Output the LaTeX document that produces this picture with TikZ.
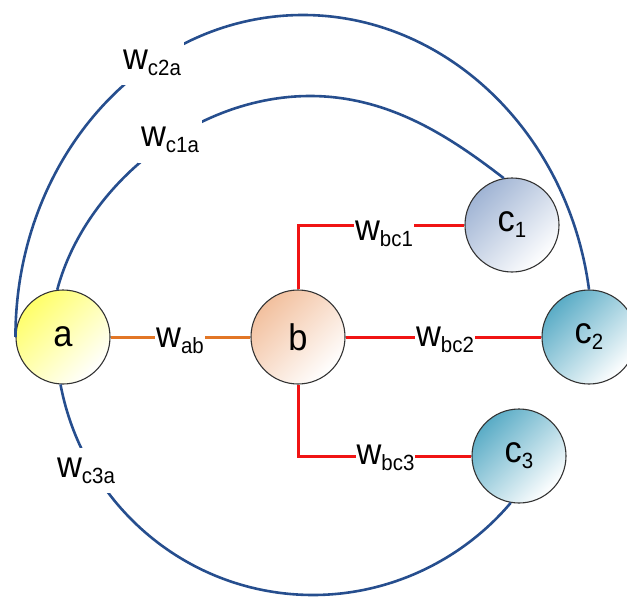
\documentclass[tikz,border=0pt]{standalone}
\usepackage{fontspec}
\newfontfamily\labfont{Liberation Sans}[FakeStretch=0.93]
\newcommand\nodefont{\labfont\fontsize{37}{40}\selectfont}
\newcommand\subtxt[1]{\raisebox{-6pt}{\fontsize{22}{24}\selectfont #1}}
\newcommand\wsub[1]{w\subtxt{#1}}
\definecolor{arcblue}{RGB}{38,78,142}
\definecolor{linered}{RGB}{240,20,20}
\definecolor{lineorange}{RGB}{226,118,38}
\definecolor{ayellow}{RGB}{255,255,105}
\definecolor{bpeach}{RGB}{242,192,158}
\definecolor{cblue}{RGB}{160,180,212}
\definecolor{cteal}{RGB}{90,172,198}
\begin{document}
\begin{tikzpicture}[x=1pt,y=-1pt,
  vertex/.style={circle, draw=black!80, line width=1.1pt, minimum size=94pt,
    inner sep=0pt, font=\nodefont, top color=#1, bottom color=white,
    shading angle=45},
  arcline/.style={draw=arcblue, line width=2.6pt},
  redconn/.style={draw=linered, line width=3pt},
  orangeconn/.style={draw=lineorange, line width=3pt},
  wlabel/.style={fill=white, inner sep=1pt, font=\nodefont},
  gaplabel/.style={fill=white, inner xsep=3pt, inner ysep=10pt, font=\nodefont}]
\clip (0,0) rectangle (627,597);

% nodes
\node[vertex=ayellow] (a) at (63,337) {a};
\node[vertex=bpeach] (b) at (298,337) {b};
\node[vertex=cblue] (c1) at (512,225) {c\subtxt{1}};
\node[vertex=cteal] (c2) at (589,337) {c\subtxt{2}};
\node[vertex=cteal] (c3) at (519,456) {c\subtxt{3}};

% connectors
\draw[orangeconn] (a) -- (b);
\draw[redconn] (b) |- (c1);
\draw[redconn] (b) -- (c2);
\draw[redconn] (b) |- (c3);

\draw[arcline] (a.west) .. controls +(0,-178) and +(-159,0) .. (303,15)
  .. controls +(142,0) and +(-21,-158) .. (c2.north);
\draw[arcline] (a.97) .. controls +(28,-105) and +(-115,0) .. (310,96)
  .. controls +(80,0) and +(-52,-40) .. (c1.100);
\draw[arcline] (a.-93) .. controls +(23,122) and +(-124,0) .. (313,595)
  .. controls +(76,0) and +(-49,58) .. (c3.-100);

% labels
\node[wlabel] (wab) at (180,341) {\wsub{ab}};
\node[wlabel] (wbc1) at (384,233.5) {\wsub{bc1}};
\node[wlabel] (wbc2) at (445,339.5) {\wsub{bc2}};
\node[wlabel] (wbc3) at (385.5,457.5) {\wsub{bc3}};
\node[gaplabel] (wc2a) at (152,62.5) {\wsub{c2a}};
\node[gaplabel] (wc1a) at (170,140) {\wsub{c1a}};
\node[gaplabel] (wc3a) at (86,470.5) {\wsub{c3a}};
\end{tikzpicture}
\end{document}
